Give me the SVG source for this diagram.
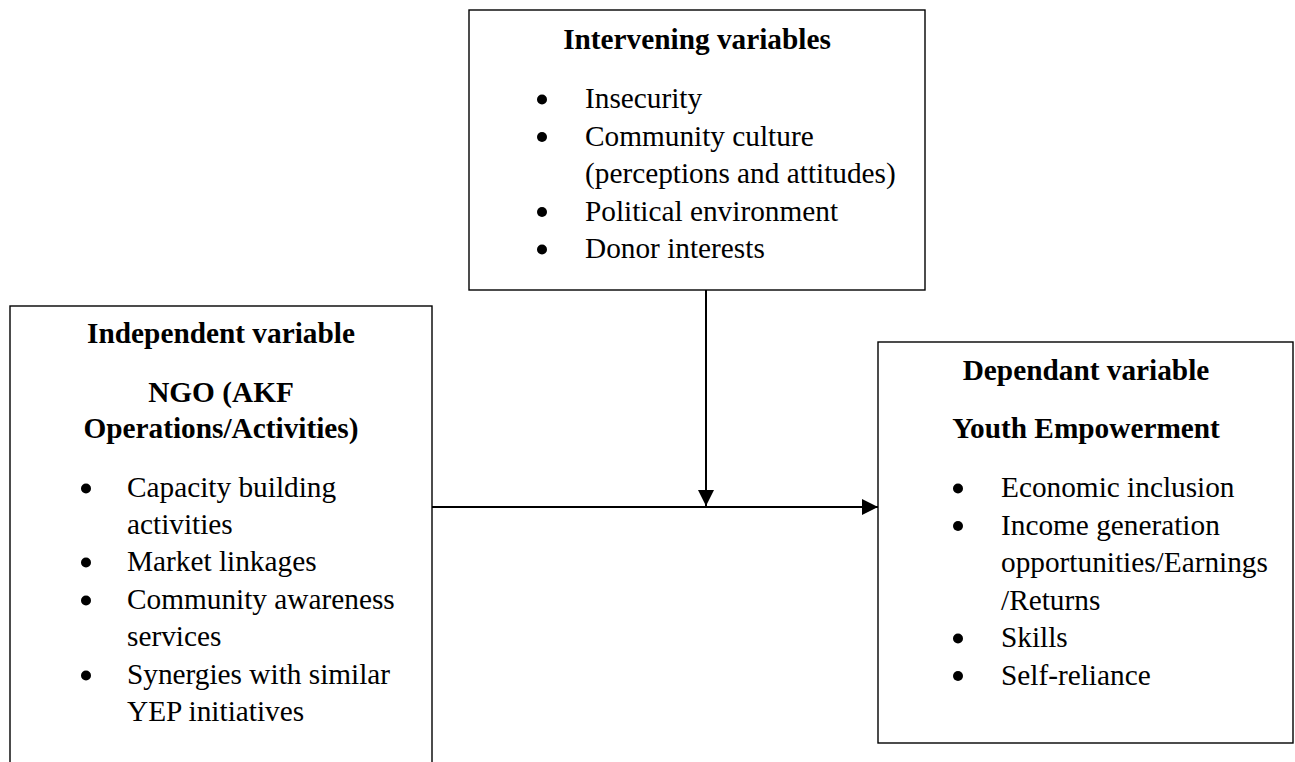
<svg xmlns="http://www.w3.org/2000/svg" width="1295" height="762" viewBox="0 0 1295 762">
<style>
.box{fill:#fff;stroke:#000;stroke-width:1.4}
.t{font-family:"Liberation Serif","Times New Roman",serif;font-size:29.3px;fill:#000}
.b{font-weight:bold;text-anchor:middle}
.dot{fill:#000}
.conn{stroke:#000;stroke-width:2;fill:none}
</style>
<defs>
<marker id="ah" viewBox="0 0 16 16" refX="16" refY="8" markerWidth="16" markerHeight="16" markerUnits="userSpaceOnUse" orient="auto">
<path d="M0,0 L16,8 L0,16 Z" fill="#000"/>
</marker>
</defs>
<rect width="1295" height="762" fill="#fff"/>
<g id="intervening">
<rect class="box" x="469" y="10" width="456" height="280"/>
<text class="t b" x="697" y="49">Intervening variables</text>
<circle class="dot" cx="542" cy="99.5" r="5"/>
<text class="t" x="585" y="108">Insecurity</text>
<circle class="dot" cx="542" cy="137" r="5"/>
<text class="t" x="585" y="145.5">Community culture</text>
<text class="t" x="585" y="183">(perceptions and attitudes)</text>
<circle class="dot" cx="542" cy="212" r="5"/>
<text class="t" x="585" y="220.5">Political environment</text>
<circle class="dot" cx="542" cy="249.5" r="5"/>
<text class="t" x="585" y="258">Donor interests</text>
</g>
<g id="independent">
<rect class="box" x="10" y="306" width="422" height="480"/>
<text class="t b" x="221" y="343">Independent variable</text>
<text class="t b" x="221" y="402">NGO (AKF</text>
<text class="t b" x="221" y="438">Operations/Activities)</text>
<circle class="dot" cx="86" cy="488.5" r="5"/>
<text class="t" x="127" y="497">Capacity building</text>
<text class="t" x="127" y="534">activities</text>
<circle class="dot" cx="86" cy="562.5" r="5"/>
<text class="t" x="127" y="571">Market linkages</text>
<circle class="dot" cx="86" cy="600.5" r="5"/>
<text class="t" x="127" y="609">Community awareness</text>
<text class="t" x="127" y="646">services</text>
<circle class="dot" cx="86" cy="675.5" r="5"/>
<text class="t" x="127" y="684">Synergies with similar</text>
<text class="t" x="127" y="721">YEP initiatives</text>
</g>
<g id="dependent">
<rect class="box" x="878" y="342" width="415" height="401"/>
<text class="t b" x="1086" y="380">Dependant variable</text>
<text class="t b" x="1086" y="438">Youth Empowerment</text>
<circle class="dot" cx="958" cy="488.5" r="5"/>
<text class="t" x="1001" y="497">Economic inclusion</text>
<circle class="dot" cx="958" cy="526" r="5"/>
<text class="t" x="1001" y="534.5">Income generation</text>
<text class="t" x="1001" y="572">opportunities/Earnings</text>
<text class="t" x="1001" y="609.5">/Returns</text>
<circle class="dot" cx="958" cy="638.5" r="5"/>
<text class="t" x="1001" y="647">Skills</text>
<circle class="dot" cx="958" cy="676" r="5"/>
<text class="t" x="1001" y="684.5">Self-reliance</text>
</g>
<g id="connectors">
<line class="conn" x1="706" y1="290" x2="706" y2="506" marker-end="url(#ah)"/>
<line class="conn" x1="432" y1="507" x2="878" y2="507" marker-end="url(#ah)"/>
</g>
</svg>
